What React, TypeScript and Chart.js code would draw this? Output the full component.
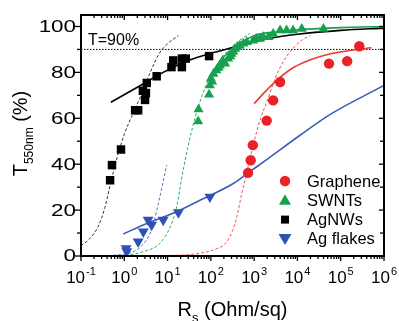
import React, { useEffect, useRef } from "react";
import { Chart, registerables } from "chart.js";

Chart.register(...registerables);

// ---------- data ----------
// x values: sheet resistance R_s (Ohm/sq), y values: T_550nm (%)
const grapheneR = [724, 832, 933, 1950, 2750, 3980, 53700, 141000, 269000];
const grapheneT = [36.2, 41.7, 48.3, 59, 67.8, 75.8, 83.8, 84.9, 91.4];

const swntR = [51, 52, 91, 95, 100, 107, 115, 135, 151, 162, 186, 214, 251, 282, 302, 331, 363, 417, 468, 562, 676, 955, 1120, 1350, 1620, 2140, 2750, 3980, 5620, 7940, 12600, 39800];
const swntT = [58.7, 63.9, 70.3, 74.3, 77.3, 76, 79.4, 80.9, 82, 83, 85, 83.8, 86, 87, 88.1, 89, 90.3, 91, 91.7, 92.5, 93.2, 93.9, 94.6, 94.6, 95.4, 95.4, 96.8, 98.3, 98.3, 98.3, 99, 99];

const agnwR = [0.47, 0.52, 0.84, 1.78, 2.09, 2.69, 3.16, 3.02, 3.31, 5.6, 12.3, 13.5, 21.4, 21.4, 26.3, 91];
const agnwT = [33, 39.6, 46.4, 63.5, 63.5, 72, 71, 68, 75.4, 78.3, 82.3, 85.2, 82.3, 86, 86, 87.1];

const flakeR = [1.1, 1.14, 2.09, 2.75, 3.55, 4.27, 7.94, 17.8, 95];
const flakeT = [3.3, 2.0, 6.2, 10.6, 15.7, 13.5, 15.7, 19, 25.8];

// fitted curves (solid)
const agnwFitR = [0.49, 2.0, 7.9, 31.6, 100, 316, 1000, 3160, 10000, 100000, 1000000];
const agnwFitT = [67, 73.5, 80, 85.3, 88.3, 90.8, 93.3, 95.3, 96.6, 98.3, 99.3];
const swntFitR = [89, 158, 316, 1000, 3160, 10000, 100000, 1000000];
const swntFitT = [77, 84.5, 90.3, 96, 97.6, 98.6, 99.5, 100];
const grapheneFitR = [1000, 1995, 3980, 7940, 19950, 50100, 158000, 513000];
const grapheneFitT = [66.4, 72.5, 77.8, 82, 85.5, 87.8, 89.5, 90.7];
const flakeFitR = [0.95, 3.31, 16.2, 56, 331, 724, 1950, 11500, 56200, 1000000];
const flakeFitT = [9.6, 14.2, 19.3, 24.3, 31.6, 36.2, 42, 52.6, 61.6, 74.3];

// percolation curves (dashed)
const agnwPercR = [0.1, 0.158, 0.251, 0.355, 0.501, 0.708, 1, 1.58, 2.51, 3.98, 6.31, 10, 17.8];
const agnwPercT = [4.5, 7.5, 13, 21, 33, 44, 53, 62, 70.5, 80, 88, 92.5, 96];
const swntPercR = [0.63, 1, 2.75, 6.6, 11.5, 16.2, 22.9, 38.9, 63, 100, 200, 398, 794];
const swntPercT = [0, 0.2, 1.9, 5.5, 12.7, 21.4, 37.4, 57, 70, 79, 87.5, 93, 97];
const graphenePercR = [3.2, 10, 31.6, 56, 112, 229, 316, 398, 501, 708, 1000, 1410, 1995, 3160, 5010, 7940, 12600, 19500];
const graphenePercT = [0, 0.2, 0.6, 1.2, 2.6, 6, 11, 17, 26, 38, 50, 60, 67.5, 78, 85.5, 90.5, 94, 96];
const flakePercR = [0.25, 0.63, 1.26, 1.95, 2.82, 3.98, 5.01, 6.31, 7.94, 9.55];
const flakePercT = [0, 0.4, 1.2, 2.6, 5.5, 10, 16, 24, 32.5, 39.6];

// reference line T = 90 %
const refLineR = [0.1, 1000000];
const refLineT = [90, 90];

// axes
const xTickValues = [0.1, 1, 10, 100, 1000, 10000, 100000, 1000000];
const xTickExponents = ["-1", "0", "1", "2", "3", "4", "5", "6"];
const yTickValues = [0, 20, 40, 60, 80, 100];
const yMinorValues = [10, 30, 50, 70, 90];

const seriesNames = ["Graphene", "SWNTs", "AgNWs", "Ag flakes"];

const RED = "#ea2227";
const GREEN = "#16a050";
const BLACK = "#000000";
const BLUE = "#2f52b2";

const FONT = '"Liberation Sans", Arial, sans-serif';

const pts = (xs: number[], ys: number[]) => xs.map((x, i) => ({ x, y: ys[i] }));

const decorPlugin = {
  id: "decor",
  afterDraw(chart: any) {
    const { ctx, chartArea: a, scales } = chart;
    const xs = scales.x;
    const ys = scales.y;
    ctx.save();
    ctx.strokeStyle = "#000";
    ctx.fillStyle = "#000";

    // ticks
    ctx.lineWidth = 1.3;
    const line = (x1: number, y1: number, x2: number, y2: number) => {
      ctx.beginPath();
      ctx.moveTo(x1, y1);
      ctx.lineTo(x2, y2);
      ctx.stroke();
    };
    xTickValues.forEach((v, i) => {
      const px = xs.getPixelForValue(v);
      line(px, a.bottom, px, a.bottom + 5);
      line(px, a.top, px, a.top + 5);
      if (i < xTickValues.length - 1) {
        for (let m = 2; m <= 9; m++) {
          const mx = xs.getPixelForValue(v * m);
          line(mx, a.bottom, mx, a.bottom + 3);
          line(mx, a.top, mx, a.top + 3);
        }
      }
    });
    yTickValues.forEach((v) => {
      const py = ys.getPixelForValue(v);
      line(a.left - 6, py, a.left, py);
      line(a.right - 5, py, a.right, py);
    });
    yMinorValues.forEach((v) => {
      const py = ys.getPixelForValue(v);
      line(a.left - 4, py, a.left, py);
      line(a.right - 4, py, a.right, py);
    });

    // frame
    ctx.lineWidth = 2;
    ctx.strokeRect(a.left, a.top, a.right - a.left, a.bottom - a.top);

    // y tick labels (slightly wide digits like the reference)
    ctx.font = `16px ${FONT}`;
    ctx.textAlign = "right";
    ctx.textBaseline = "middle";
    yTickValues.forEach((v) => {
      const py = ys.getPixelForValue(v);
      ctx.save();
      ctx.translate(a.left - 5, py + 1);
      ctx.scale(1.4, 1);
      ctx.fillText(String(v), 0, 0);
      ctx.restore();
    });

    // x tick labels 10^n
    ctx.textAlign = "left";
    ctx.textBaseline = "alphabetic";
    xTickValues.forEach((v, i) => {
      const px = xs.getPixelForValue(v);
      ctx.font = `17px ${FONT}`;
      const w1 = ctx.measureText("10").width;
      ctx.font = `11px ${FONT}`;
      const w2 = ctx.measureText(xTickExponents[i]).width;
      const start = px - (w1 + w2 + 1) / 2;
      ctx.font = `17px ${FONT}`;
      ctx.fillText("10", start, 283);
      ctx.font = `11px ${FONT}`;
      ctx.fillText(xTickExponents[i], start + w1 + 1, 275);
    });

    // x title: R_s (Ohm/sq)
    {
      const main = `20px ${FONT}`;
      const sub = `13px ${FONT}`;
      ctx.font = main;
      const wR = ctx.measureText("R").width;
      const wRest = ctx.measureText(" (Ohm/sq)").width;
      ctx.font = sub;
      const wS = ctx.measureText("s").width;
      const cx = (a.left + a.right) / 2;
      const start = cx - (wR + wS + wRest) / 2;
      ctx.font = main;
      ctx.fillText("R", start, 316);
      ctx.font = sub;
      ctx.fillText("s", start + wR, 322);
      ctx.font = main;
      ctx.fillText(" (Ohm/sq)", start + wR + wS, 316);
    }

    // y title: T_550nm (%)
    {
      const main = `20px ${FONT}`;
      const sub = `12px ${FONT}`;
      ctx.font = main;
      const wT = ctx.measureText("T").width;
      const wRest = ctx.measureText(" (%)").width;
      ctx.font = sub;
      const wS = ctx.measureText("550nm").width;
      ctx.save();
      ctx.translate(27, (a.top + a.bottom) / 2 - 2);
      ctx.rotate(-Math.PI / 2);
      const start = -(wT + wS + wRest) / 2;
      ctx.font = main;
      ctx.fillText("T", start, 0);
      ctx.font = sub;
      ctx.fillText("550nm", start + wT, 6);
      ctx.font = main;
      ctx.fillText(" (%)", start + wT + wS, 0);
      ctx.restore();
    }

    // T=90% label
    ctx.font = `16px ${FONT}`;
    ctx.fillText("T=90%", a.left + 7, ys.getPixelForValue(91.8));

    // legend
    const lx = 285;
    const ly0 = 181;
    const dy = 19.3;
    const colors = [RED, GREEN, BLACK, BLUE];
    seriesNames.forEach((name, i) => {
      const cy = ly0 + i * dy;
      ctx.fillStyle = colors[i];
      ctx.beginPath();
      if (i === 0) {
        ctx.arc(lx, cy, 5.2, 0, Math.PI * 2);
      } else if (i === 1) {
        ctx.moveTo(lx, cy - 6);
        ctx.lineTo(lx + 6, cy + 4.5);
        ctx.lineTo(lx - 6, cy + 4.5);
        ctx.closePath();
      } else if (i === 2) {
        ctx.rect(lx - 4, cy - 4, 8, 8);
      } else {
        ctx.moveTo(lx, cy + 6);
        ctx.lineTo(lx + 6.5, cy - 5);
        ctx.lineTo(lx - 6.5, cy - 5);
        ctx.closePath();
      }
      ctx.fill();
      ctx.fillStyle = "#000";
      ctx.font = `16.5px ${FONT}`;
      ctx.textBaseline = "middle";
      ctx.fillText(name, 307, cy + 1);
      ctx.textBaseline = "alphabetic";
    });

    ctx.restore();
  },
};

export default function App() {
  const ref = useRef<HTMLCanvasElement>(null);

  useEffect(() => {
    if (!ref.current) return;
    const dashed = (data: any, color: string) => ({
      data,
      showLine: true,
      borderColor: color,
      borderWidth: 1,
      borderDash: [3, 2],
      pointRadius: 0,
      cubicInterpolationMode: "monotone",
      order: 3,
    });
    const solid = (data: any, color: string) => ({
      data,
      showLine: true,
      borderColor: color,
      borderWidth: 1.6,
      pointRadius: 0,
      cubicInterpolationMode: "monotone",
      order: 2,
    });
    const markers = (data: any, color: string, style: string, r: number, rot = 0) => ({
      data,
      showLine: false,
      pointStyle: style,
      pointRadius: r,
      pointRotation: rot,
      pointBackgroundColor: color,
      pointBorderColor: color,
      pointBorderWidth: 0,
      order: 0,
    });

    const chart = new Chart(ref.current, {
      type: "scatter",
      data: {
        datasets: [
          {
            data: pts(refLineR, refLineT),
            showLine: true,
            borderColor: "#000",
            borderWidth: 1,
            borderDash: [1.5, 1.5],
            pointRadius: 0,
            order: 4,
          } as any,
          dashed(pts(agnwPercR, agnwPercT), "#333333"),
          dashed(pts(swntPercR, swntPercT), "#22b05a"),
          dashed(pts(graphenePercR, graphenePercT), "#f0524f"),
          dashed(pts(flakePercR, flakePercT), "#5570c4"),
          solid(pts(agnwFitR, agnwFitT), BLACK),
          solid(pts(swntFitR, swntFitT), GREEN),
          solid(pts(grapheneFitR, grapheneFitT), "#ee3b2f"),
          solid(pts(flakeFitR, flakeFitT), "#3b5cb8"),
          markers(pts(grapheneR, grapheneT), RED, "circle", 5.2),
          markers(pts(swntR, swntT), GREEN, "triangle", 5.8),
          markers(pts(agnwR, agnwT), BLACK, "rect", 6),
          markers(pts(flakeR, flakeT), BLUE, "triangle", 6.3, 180),
        ] as any,
      },
      options: {
        responsive: false,
        animation: false,
        devicePixelRatio: 1,
        layout: { padding: { left: 81, top: 15, right: 15, bottom: 65 } },
        plugins: { legend: { display: false }, tooltip: { enabled: false } },
        events: [],
        scales: {
          x: { type: "logarithmic", min: 0.1, max: 1000000, display: false },
          y: { type: "linear", min: 0, max: 105, display: false },
        },
      } as any,
      plugins: [decorPlugin],
    });
    return () => chart.destroy();
  }, []);

  return (
    <div style={{ position: "fixed", left: 0, top: 0, width: 399, height: 321, background: "#fff" }}>
      <canvas ref={ref} width={399} height={321} style={{ width: 399, height: 321, display: "block" }} />
    </div>
  );
}
